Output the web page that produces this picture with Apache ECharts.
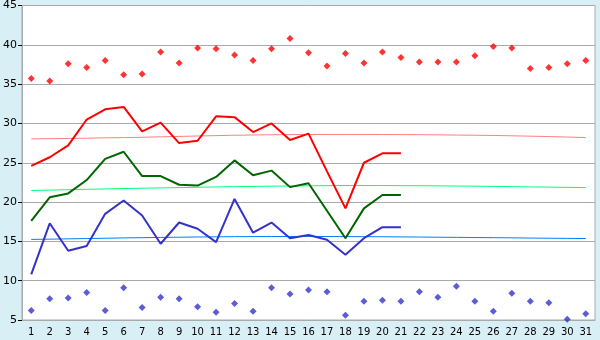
<!DOCTYPE html>
<html>
<head>
<meta charset="utf-8">
<script src="https://cdn.jsdelivr.net/npm/echarts@6/dist/echarts.min.js"></script>
<style>
html,body{margin:0;padding:0;background:#d9eff6;}
#c{width:600px;height:340px;}
</style>
</head>
<body>
<div id="c"></div>
<script>
var days = [];
for (var d = 1; d <= 31; d++) days.push(String(d));

var redPoints = [35.7,35.4,37.6,37.1,38.0,36.2,36.3,39.1,37.7,39.6,39.5,38.7,38.0,39.5,40.8,39.0,37.3,38.9,37.7,39.1,38.4,37.8,37.8,37.8,38.6,39.8,39.6,37.0,37.1,37.6,38.0];
var redLine = [24.6,25.7,27.2,30.5,31.8,32.1,29.0,30.1,27.5,27.8,30.9,30.8,28.9,30.0,27.9,28.7,23.9,19.2,25.0,26.2,26.2];
var redTrend = [28.04,28.06,28.09,28.12,28.17,28.2,28.24,28.3,28.35,28.4,28.45,28.5,28.53,28.56,28.58,28.59,28.6,28.6,28.6,28.59,28.58,28.57,28.55,28.52,28.5,28.47,28.43,28.38,28.33,28.27,28.2];
var greenLine = [17.6,20.6,21.1,22.8,25.5,26.4,23.3,23.3,22.2,22.1,23.2,25.3,23.4,24.0,21.9,22.4,18.9,15.4,19.2,20.9,20.9];
var greenTrend = [21.47,21.52,21.57,21.62,21.67,21.72,21.76,21.8,21.84,21.88,21.92,21.96,21.99,22.02,22.05,22.07,22.09,22.1,22.1,22.1,22.09,22.08,22.06,22.04,22.02,21.99,21.96,21.93,21.9,21.87,21.84];
var blueLine = [10.8,17.3,13.8,14.4,18.5,20.2,18.3,14.7,17.4,16.6,14.9,20.4,16.1,17.4,15.4,15.8,15.2,13.3,15.4,16.8,16.8];
var blueTrend = [15.25,15.28,15.32,15.36,15.4,15.44,15.47,15.5,15.53,15.56,15.58,15.6,15.61,15.62,15.62,15.62,15.62,15.61,15.6,15.59,15.57,15.55,15.53,15.51,15.49,15.47,15.45,15.42,15.4,15.38,15.36];
var bluePoints = [6.2,7.7,7.8,8.5,6.2,9.1,6.6,7.9,7.7,6.7,6.0,7.1,6.1,9.1,8.3,8.8,8.6,5.6,7.4,7.5,7.4,8.6,7.9,9.3,7.4,6.1,8.4,7.4,7.2,5.1,5.8];

var yTicks = {min: 5, max: 45, interval: 5};

function trend(data, color) {
  return {type: 'line', data: data, symbol: 'none', smooth: false, z: 2,
    lineStyle: {color: color, width: 1}, itemStyle: {color: color}, animation: false};
}
function main(data, color) {
  return {type: 'line', data: data, symbol: 'none', z: 3,
    lineStyle: {color: color, width: 2}, itemStyle: {color: color}, animation: false};
}
function pts(data, color) {
  return {type: 'scatter', data: data, symbol: 'diamond', symbolSize: 7, z: 4,
    itemStyle: {color: color}, animation: false};
}

var chart = echarts.init(document.getElementById('c'), null, {renderer: 'canvas'});
chart.setOption({
  backgroundColor: '#d9eff6',
  animation: false,
  grid: {left: 20, right: 5, top: 5, bottom: 20, show: true, backgroundColor: '#ffffff', borderColor: '#aaaaaa', borderWidth: 1},
  xAxis: {
    type: 'category', data: days, boundaryGap: true,
    axisLine: {lineStyle: {color: '#aaaaaa', width: 1}},
    axisTick: {alignWithLabel: true, length: 4, lineStyle: {color: '#000'}},
    axisLabel: {interval: 0, fontFamily: 'DejaVu Sans', fontSize: 10, color: '#000', margin: 7},
    splitLine: {show: false}
  },
  yAxis: {
    type: 'value', min: yTicks.min, max: yTicks.max, interval: yTicks.interval,
    axisLine: {show: true, lineStyle: {color: '#aaaaaa', width: 1}},
    axisTick: {show: true, length: 4, lineStyle: {color: '#000'}},
    axisLabel: {fontFamily: 'DejaVu Sans', fontSize: 11, color: '#000', margin: 5},
    splitLine: {show: true, lineStyle: {color: '#aaaaaa', width: 1}}
  },
  series: [
    trend(redTrend, '#ff8080'),
    trend(greenTrend, '#00ff80'),
    trend(blueTrend, '#0080ff'),
    main(redLine, '#ff0000'),
    main(greenLine, '#006600'),
    main(blueLine, '#3333cc'),
    pts(redPoints, '#ff0000'),
    pts(bluePoints, '#3333cc')
  ]
});
</script>
</body>
</html>
